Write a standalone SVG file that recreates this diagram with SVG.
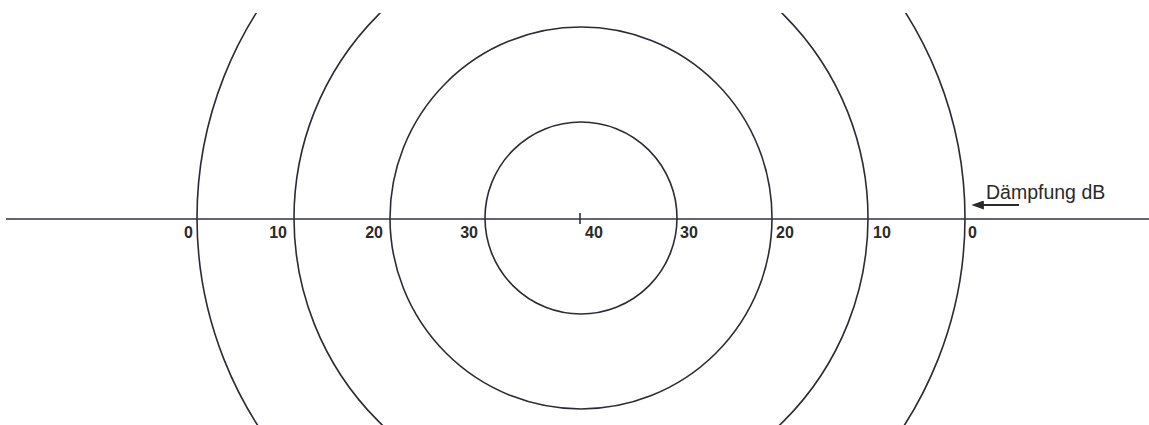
<svg xmlns="http://www.w3.org/2000/svg" width="1149" height="425" viewBox="0 0 1149 425">
<style>
.c{fill:none;stroke:#2b2b33;stroke-width:1.6}
.ax{stroke:#2f3340;stroke-width:1.6}
.lb{font-family:"Liberation Sans",Arial,sans-serif;font-weight:bold;font-size:16px;fill:#2a2a2a}
.tx{font-family:"Liberation Sans",Arial,sans-serif;font-size:19.5px;fill:#2a2a2a}
</style>
<defs>
<clipPath id="clip"><rect x="0" y="13" width="1149" height="412"/></clipPath>
<marker id="ah" viewBox="0 0 14 10" refX="1" refY="5" markerWidth="14" markerHeight="9" markerUnits="userSpaceOnUse" orient="auto-start-reverse">
<path d="M0,0 L14,5 L0,10 z" fill="#2a2a2a"/>
</marker>
</defs>
<rect width="1149" height="425" fill="#ffffff"/>
<g id="circles" clip-path="url(#clip)">
<circle id="ring40" class="c" cx="581" cy="218" r="96"/>
<circle id="ring30" class="c" cx="581" cy="218" r="191"/>
<circle id="ring20" class="c" cx="581" cy="218" r="287"/>
<circle id="ring10" class="c" cx="581" cy="218" r="384"/>
</g>
<g id="connectors">
<line class="ax" x1="6" y1="219" x2="1149" y2="219"/>
<line class="ax" x1="580" y1="213" x2="580" y2="224"/>
<line x1="1019" y1="205" x2="983" y2="205" stroke="#2a2a2a" stroke-width="2.2" marker-end="url(#ah)"/>
</g>
<g id="labels">
<text class="lb" x="193" y="238" text-anchor="end">0</text>
<text class="lb" x="287" y="238" text-anchor="end">10</text>
<text class="lb" x="383" y="238" text-anchor="end">20</text>
<text class="lb" x="478" y="238" text-anchor="end">30</text>
<text class="lb" x="585" y="238">40</text>
<text class="lb" x="680" y="238">30</text>
<text class="lb" x="776" y="238">20</text>
<text class="lb" x="873" y="238">10</text>
<text class="lb" x="968" y="238">0</text>
</g>
<g id="legend">
<text class="tx" x="986" y="199">Dämpfung dB</text>
</g>
</svg>
